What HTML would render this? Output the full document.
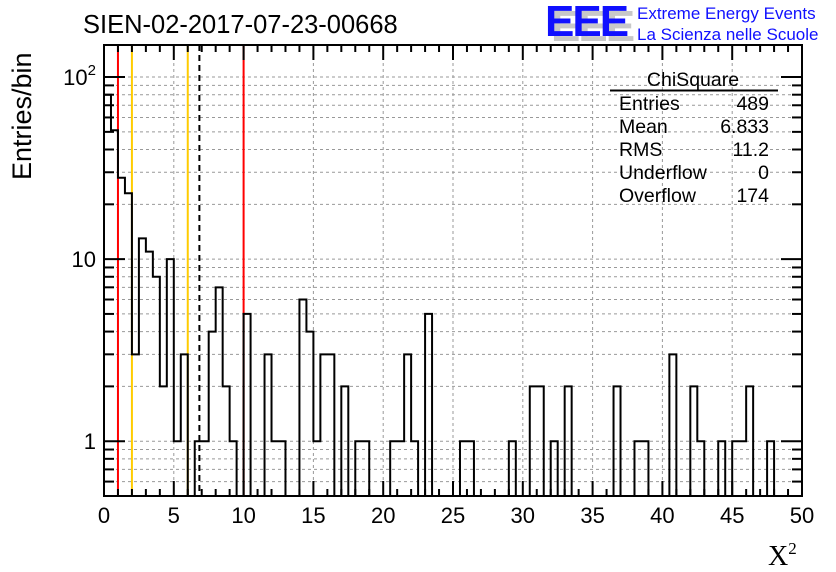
<!DOCTYPE html>
<html><head><meta charset="utf-8"><style>
body{margin:0;background:#fff;}
svg{display:block;font-family:"Liberation Sans",sans-serif;}
</style></head><body>
<svg id="c" width="836" height="572" viewBox="0 0 836 572" xmlns="http://www.w3.org/2000/svg">
<rect width="836" height="572" fill="#fff"/>
<g id="grid"></g>
<g id="lines"></g>
<g id="hist"></g>
<g id="axes"></g>
<text x="83" y="33" font-size="25.5">SIEN-02-2017-07-23-00668</text>
<g>
<text x="551" y="41" font-size="44" font-weight="bold" fill="#c8c8c8" letter-spacing="-2">EEE</text>
<text x="545" y="36" font-size="44" font-weight="bold" fill="#1010ff" letter-spacing="-2">EEE</text>
<text x="637" y="19" font-size="17" fill="#1010ff">Extreme Energy Events</text>
<text x="637" y="40" font-size="17" fill="#1010ff">La Scienza nelle Scuole</text>
</g>
<g font-size="19.5">
<text x="693" y="86" text-anchor="middle">ChiSquare</text>
<line x1="610" y1="90.5" x2="778" y2="90.5" stroke="#000" stroke-width="2"/>
<text x="619" y="110">Entries</text><text x="769" y="110" text-anchor="end">489</text>
<text x="619" y="133">Mean</text><text x="769" y="133" text-anchor="end">6.833</text>
<text x="619" y="156">RMS</text><text x="769" y="156" text-anchor="end">11.2</text>
<text x="619" y="179">Underflow</text><text x="769" y="179" text-anchor="end">0</text>
<text x="619" y="202">Overflow</text><text x="769" y="202" text-anchor="end">174</text>
</g>
<text transform="translate(31,180) rotate(-90)" font-size="27">Entries/bin</text>
<text x="768" y="565" font-size="28" font-family="Liberation Serif,serif">X<tspan font-size="17" dy="-11">2</tspan></text>
</svg>
<script>
const counts=[80,51,28,23,3,13,11,8,2,10,1,3,0,1,1,4,7,2,1,0,
5,0,0,3,1,1,0,0,6,4,1,3,3,0,2,0,1,1,0,0,
0,1,1,3,1,0,5,0,0,0,0,1,1,0,0,0,0,0,1,0,
0,2,2,0,1,0,2,0,0,0,0,0,0,2,0,0,1,1,0,0,
0,3,0,0,2,1,0,0,1,0,1,1,2,0,0,1,0,0,0,0];
const binWidth=0.5;
const xTicks=[0,5,10,15,20,25,30,35,40,45,50];
const redLines=[1,10];
const yellowLines=[2,6];
const meanLine=[6.833];
const X0=104,X1=802,Y0=45,Y1=496,xmin=0,xmax=50,ymin=0.5,ymax=150;
const NS='http://www.w3.org/2000/svg';
function sx(v){return X0+(v-xmin)/(xmax-xmin)*(X1-X0);}
function sy(v){return Y1-(Math.log10(v)-Math.log10(ymin))/(Math.log10(ymax)-Math.log10(ymin))*(Y1-Y0);}
function mk(tag,at,parent){const e=document.createElementNS(NS,tag);for(const k in at)e.setAttribute(k,at[k]);document.getElementById(parent).appendChild(e);return e;}
for(const t of xTicks){if(t===xmin||t===xmax)continue;
 const g=mk('line',{x1:sx(t),x2:sx(t),y1:Y0,y2:Y1,stroke:'#999','stroke-dasharray':'3,3'},'grid');
 
 }
const yLogTicks=[];
for(let d=-1;d<=2;d++)for(let m=1;m<10;m++){const v=m*Math.pow(10,d);if(v>ymin&&v<ymax)yLogTicks.push(v);}
for(const v of yLogTicks){
 const g=mk('line',{x1:X0,x2:X1,y1:sy(v),y2:sy(v),stroke:'#999','stroke-dasharray':'3,3'},'grid');
 
 }
let d='M'+sx(0)+','+Y1;
for(let i=0;i<counts.length;i++){
 const c=counts[i];const y=c>0?Math.max(sy(c),Y0):Y1;
 d+=' L'+sx(i*binWidth)+','+y+' L'+sx((i+1)*binWidth)+','+y;}
d+=' L'+sx(counts.length*binWidth)+','+Y1;
const hp=mk('path',{d:d,fill:'none',stroke:'#000','stroke-width':2},'hist');


for(const v of redLines){const l=mk('line',{x1:sx(v),x2:sx(v),y1:Y0,y2:Y1,stroke:'#f00','stroke-width':2},'lines');
 
 }
for(const v of yellowLines){const l=mk('line',{x1:sx(v),x2:sx(v),y1:Y0,y2:Y1,stroke:'#fc0','stroke-width':2},'lines');
 
 }
for(const v of meanLine){const l=mk('line',{x1:sx(v),x2:sx(v),y1:Y0,y2:Y1,stroke:'#000','stroke-width':2,'stroke-dasharray':'6,4'},'lines');
 
 }
const fr=mk('rect',{x:X0,y:Y0,width:X1-X0,height:Y1-Y0,fill:'none',stroke:'#000','stroke-width':2},'axes');


for(let v=xmin;v<=xmax;v+=1){const major=v%5===0;const L=major?15:7;
 mk('line',{x1:sx(v),x2:sx(v),y1:Y1,y2:Y1-L,stroke:'#000','stroke-width':2},'axes');
 mk('line',{x1:sx(v),x2:sx(v),y1:Y0,y2:Y0+L,stroke:'#000','stroke-width':2},'axes');}
for(const t of xTicks){const tx=mk('text',{x:sx(t),y:523,'font-size':22,'text-anchor':'middle'},'axes');
 tx.textContent=String(t);
 
 }
for(const v of yLogTicks){const major=[1,10,100].includes(Math.round(v*1000)/1000);const L=major?21:10;
 mk('line',{x1:X0,x2:X0+L,y1:sy(v),y2:sy(v),stroke:'#000','stroke-width':2},'axes');
 mk('line',{x1:X1,x2:X1-L,y1:sy(v),y2:sy(v),stroke:'#000','stroke-width':2},'axes');}
const yLabels=[{v:1,t:'1'},{v:10,t:'10'}];
for(const o of yLabels){const tx=mk('text',{x:96,y:sy(o.v)+8,'font-size':22,'text-anchor':'end'},'axes');
 tx.textContent=o.t;
 
 }
const t2=mk('text',{x:96,y:sy(100)+8,'font-size':22,'text-anchor':'end'},'axes');


t2.innerHTML='10<tspan font-size="15" dy="-10">2</tspan>';
</script>
</body></html>
